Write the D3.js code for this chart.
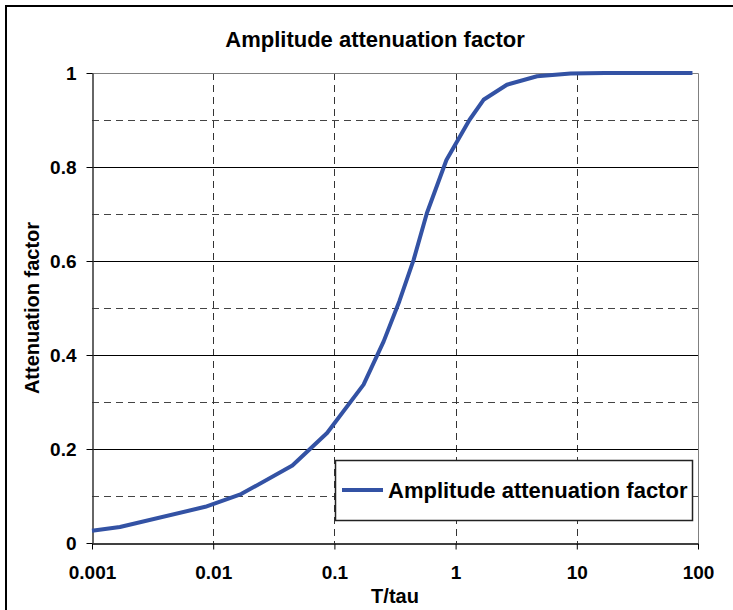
<!DOCTYPE html>
<html>
<head>
<meta charset="utf-8">
<script src="https://cdnjs.cloudflare.com/ajax/libs/d3/7.8.5/d3.min.js"></script>
<style>
    body { margin: 0; background: #fff; }
    svg { display: block; font-family: Arial, "Liberation Sans", sans-serif; font-weight: bold; }
</style>
</head>
<body>
<script>
// chart data
const tOverTau = [0.001, 0.0017, 0.0086, 0.017, 0.045, 0.087, 0.174, 0.255, 0.343, 0.451, 0.58, 0.84, 1.3, 1.7, 2.65, 4.7, 8.9, 17, 90];
const attenuation = [0.026, 0.034, 0.077, 0.104, 0.165, 0.234, 0.337, 0.429, 0.514, 0.603, 0.702, 0.815, 0.90, 0.943, 0.975, 0.993, 0.999, 1.0, 1.0];
const xTicks = [0.001, 0.01, 0.1, 1, 10, 100];
const xTickLabels = ['0.001', '0.01', '0.1', '1', '10', '100'];
const yMajor = [0, 0.2, 0.4, 0.6, 0.8, 1];
const yMinor = [0.1, 0.3, 0.5, 0.7, 0.9];
const seriesName = 'Amplitude attenuation factor';

const width = 733, height = 610;
const plotLeft = 92, plotRight = 698, plotTop = 73, plotBottom = 543;

const svg = d3.select('body').append('svg')
    .attr('width', width)
    .attr('height', height);

// outer chart border (runs off the right and bottom edges)
svg.append('rect')
    .attr('x', 6).attr('y', 6)
    .attr('width', 800).attr('height', 700)
    .attr('fill', 'none')
    .attr('stroke', '#000')
    .attr('stroke-width', 2);

const x = d3.scaleLog().domain([0.001, 100]).range([plotLeft, plotRight]);
const y = d3.scaleLinear().domain([0, 1]).range([plotBottom, plotTop]);

// minor dashed horizontal gridlines
svg.append('g')
    .selectAll('line')
    .data(yMinor)
    .enter().append('line')
    .attr('x1', plotLeft).attr('x2', plotRight)
    .attr('y1', d => Math.round(y(d)) + 0.5)
    .attr('y2', d => Math.round(y(d)) + 0.5)
    .attr('stroke', '#444')
    .attr('stroke-dasharray', '7,5');

// dashed vertical gridlines at each decade
svg.append('g')
    .selectAll('line')
    .data(xTicks.slice(1, -1))
    .enter().append('line')
    .attr('x1', d => Math.round(x(d)) + 0.5)
    .attr('x2', d => Math.round(x(d)) + 0.5)
    .attr('y1', plotTop).attr('y2', plotBottom)
    .attr('stroke', '#333')
    .attr('stroke-dasharray', '7,5');

// major solid horizontal gridlines
svg.append('g')
    .selectAll('line')
    .data(yMajor.slice(1, -1))
    .enter().append('line')
    .attr('x1', plotLeft).attr('x2', plotRight)
    .attr('y1', d => Math.round(y(d)) + 0.5)
    .attr('y2', d => Math.round(y(d)) + 0.5)
    .attr('stroke', '#000');

// top and right edges of the plot area
svg.append('path')
    .attr('d', `M${plotLeft},${plotTop + 0.5}H${plotRight + 0.5}V${plotBottom}`)
    .attr('fill', 'none')
    .attr('stroke', '#808080');

// x axis
const xAxis = svg.append('g')
    .attr('transform', `translate(0,${plotBottom + 0.5})`)
    .call(d3.axisBottom(x)
        .tickValues(xTicks)
        .tickFormat((d, i) => xTickLabels[i])
        .tickSizeInner(6)
        .tickSizeOuter(0)
        .tickPadding(16));
xAxis.select('.domain').attr('stroke', '#000').attr('stroke-width', 1.5);
xAxis.selectAll('.tick line').attr('stroke', '#000');
xAxis.selectAll('text')
    .attr('font-size', 19)
    .attr('font-family', 'Arial, "Liberation Sans", sans-serif')
    .attr('font-weight', 'bold')
    .attr('fill', '#000');

// y axis
const yAxis = svg.append('g')
    .attr('transform', `translate(${plotLeft + 0.5},0)`)
    .call(d3.axisLeft(y)
        .tickValues(yMajor)
        .tickFormat(d3.format('~g'))
        .tickSizeInner(6)
        .tickSizeOuter(0)
        .tickPadding(10));
yAxis.select('.domain').attr('stroke', '#333').attr('stroke-width', 1.5);
yAxis.selectAll('.tick line').attr('stroke', '#000');
yAxis.selectAll('text')
    .attr('font-size', 19)
    .attr('font-family', 'Arial, "Liberation Sans", sans-serif')
    .attr('font-weight', 'bold')
    .attr('fill', '#000');

// the series line
const line = d3.line()
    .x((d, i) => x(tOverTau[i]))
    .y(d => y(d));

svg.append('path')
    .datum(attenuation)
    .attr('d', line)
    .attr('fill', 'none')
    .attr('stroke', '#3352a4')
    .attr('stroke-width', 4)
    .attr('stroke-linejoin', 'round');

// titles
svg.append('text')
    .attr('x', 375).attr('y', 47)
    .attr('text-anchor', 'middle')
    .attr('font-size', 22)
    .text(seriesName);

svg.append('text')
    .attr('x', (plotLeft + plotRight) / 2).attr('y', 603)
    .attr('text-anchor', 'middle')
    .attr('font-size', 20)
    .text('T/tau');

svg.append('text')
    .attr('transform', `translate(39,${(plotTop + plotBottom) / 2}) rotate(-90)`)
    .attr('text-anchor', 'middle')
    .attr('font-size', 20)
    .text('Attenuation factor');

// legend
const legend = svg.append('g');
legend.append('rect')
    .attr('x', 335.5).attr('y', 460.5)
    .attr('width', 357).attr('height', 60)
    .attr('fill', '#fff')
    .attr('stroke', '#222')
    .attr('stroke-width', 1.5);
legend.append('line')
    .attr('x1', 342).attr('x2', 383)
    .attr('y1', 490).attr('y2', 490)
    .attr('stroke', '#3352a4')
    .attr('stroke-width', 4);
legend.append('text')
    .attr('x', 388).attr('y', 498)
    .attr('font-size', 22)
    .text(seriesName);
</script>
</body>
</html>
